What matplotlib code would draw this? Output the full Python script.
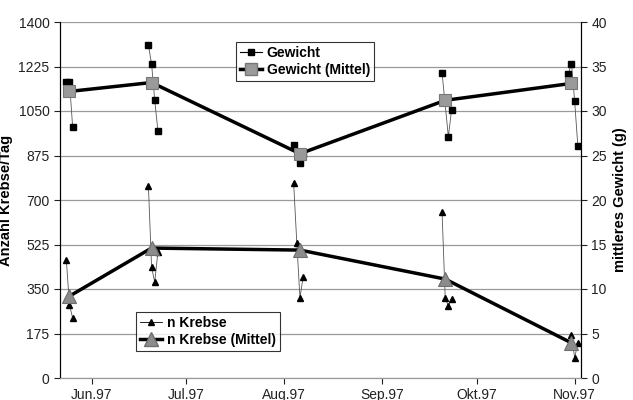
import matplotlib
matplotlib.use("Agg")
import matplotlib.pyplot as plt
import matplotlib.dates as mdates
import numpy as np
from matplotlib.lines import Line2D

plt.rcParams['font.family'] = ['Liberation Sans', 'DejaVu Sans']

# ---- data ----
# individual weight samples (g), grouped by sampling campaign
gew_dates = [["1997-05-24", "1997-05-25", "1997-05-26"],
             ["1997-06-19", "1997-06-20", "1997-06-21", "1997-06-22"],
             ["1997-08-04", "1997-08-06", "1997-08-07"],
             ["1997-09-20", "1997-09-22", "1997-09-23"],
             ["1997-10-30", "1997-10-31", "1997-11-01", "1997-11-02"]]
gew_values = [[33.3, 33.3, 28.2],
              [37.4, 35.3, 31.2, 27.8],
              [26.2, 24.2, 25.2],
              [34.3, 27.1, 30.1],
              [34.2, 35.3, 31.1, 26.1]]

# individual crayfish counts per day
kreb_dates = [["1997-05-24", "1997-05-25", "1997-05-26"],
              ["1997-06-19", "1997-06-20", "1997-06-21", "1997-06-22"],
              ["1997-08-04", "1997-08-05", "1997-08-06", "1997-08-07"],
              ["1997-09-20", "1997-09-21", "1997-09-22", "1997-09-23"],
              ["1997-10-31", "1997-11-01", "1997-11-02"]]
kreb_values = [[464, 287, 236],
               [755, 436, 377, 495],
               [767, 531, 315, 397],
               [653, 315, 283, 311],
               [169, 79, 138]]

mean_dates = ["1997-05-25", "1997-06-20", "1997-08-06", "1997-09-21", "1997-10-31"]
gew_mean = [32.2, 33.2, 25.2, 31.2, 33.1]
kreb_mean = [322, 511, 503, 389, 138]

month_ticks = ["1997-06-01", "1997-07-01", "1997-08-01", "1997-09-01", "1997-10-01", "1997-11-01"]
month_labels = ["Jun.97", "Jul.97", "Aug.97", "Sep.97", "Okt.97", "Nov.97"]

left_ticks = [0, 175, 350, 525, 700, 875, 1050, 1225, 1400]
right_ticks = [0, 5, 10, 15, 20, 25, 30, 35, 40]

# ---- helpers ----
def d(s):
    return np.datetime64(s)

def flatten_with_gaps(date_groups, value_groups):
    xs, ys = [], []
    for dg, vg in zip(date_groups, value_groups):
        for a, b in zip(dg, vg):
            xs.append(mdates.date2num(d(a)))
            ys.append(b)
        xs.append(np.nan)
        ys.append(np.nan)
    return np.array(xs), np.array(ys)

fig = plt.figure(figsize=(6.33, 4.0), dpi=100)
ax = fig.add_axes([0.0948, 0.055, 0.823, 0.89])
ax2 = ax.twinx()

# grid
ax.set_ylim(0, 1400)
ax.set_yticks(left_ticks)
ax.yaxis.grid(True, color="#9a9a9a", lw=0.9)
ax.set_axisbelow(True)
ax2.set_ylim(0, 40)
ax2.set_yticks(right_ticks)

# Krebse individual
kx, ky = flatten_with_gaps(kreb_dates, kreb_values)
ax.plot(kx, ky, color="#555555", lw=0.6, marker="^", ms=4.5,
        mfc="black", mec="black", zorder=3)
# Krebse mean
mx = [mdates.date2num(d(s)) for s in mean_dates]
ax.plot(mx, kreb_mean, color="black", lw=2.5, marker="^", ms=10,
        mfc="#8c8c8c", mec="#6e6e6e", mew=0.8, zorder=4)

# Gewicht individual
gx, gy = flatten_with_gaps(gew_dates, gew_values)
ax2.plot(gx, gy, color="#555555", lw=0.6, marker="s", ms=5,
         mfc="black", mec="black", zorder=3)
ax2.plot(mx, gew_mean, color="black", lw=2.5, marker="s", ms=9,
         mfc="#9a9a9a", mec="#777777", mew=0.8, zorder=4)

# x axis
ax.set_xlim(mdates.date2num(d("1997-05-22")), mdates.date2num(d("1997-11-03")))
ax.set_xticks([mdates.date2num(d(s)) for s in month_ticks])
ax.set_xticklabels(month_labels)

for a in (ax, ax2):
    a.spines["top"].set_visible(False)
    a.spines["left"].set_color("black")
    a.spines["right"].set_color("black")
    a.spines["bottom"].set_color("#9a9a9a")
    a.tick_params(labelsize=10, length=4, width=0.8, colors="#222222")

ax.set_ylabel("Anzahl Krebse/Tag", fontsize=10.5, fontweight="bold", labelpad=4)
ax2.set_ylabel("mittleres Gewicht (g)", fontsize=10.5, fontweight="bold", labelpad=4)

# legends
gew_handles = [Line2D([], [], color="black", lw=0.8, marker="s", ms=5, mfc="black", mec="black"),
               Line2D([], [], color="black", lw=2.5, marker="s", ms=9, mfc="#9a9a9a", mec="#777777")]
leg1 = ax2.legend(gew_handles, ["Gewicht", "Gewicht (Mittel)"],
                  loc="upper left", bbox_to_anchor=(0.338, 0.945),
                  frameon=True, fancybox=False, edgecolor="black",
                  prop={"weight": "bold", "size": 10}, handlelength=1.6,
                  handletextpad=0.3, borderpad=0.3, labelspacing=0.2,
                  borderaxespad=0)
leg1.get_frame().set_linewidth(0.8)
ax2.add_artist(leg1)

kre_handles = [Line2D([], [], color="black", lw=0.6, marker="^", ms=4.5, mfc="black", mec="black"),
               Line2D([], [], color="black", lw=2.5, marker="^", ms=10, mfc="#8c8c8c", mec="#6e6e6e")]
leg2 = ax2.legend(kre_handles, ["n Krebse", "n Krebse (Mittel)"],
                  loc="upper left", bbox_to_anchor=(0.146, 0.185),
                  frameon=True, fancybox=False, edgecolor="black",
                  prop={"weight": "bold", "size": 10}, handlelength=1.6,
                  handletextpad=0.3, borderpad=0.3, labelspacing=0.2,
                  borderaxespad=0)
leg2.get_frame().set_linewidth(0.8)

fig.savefig("out.png", dpi=100)
